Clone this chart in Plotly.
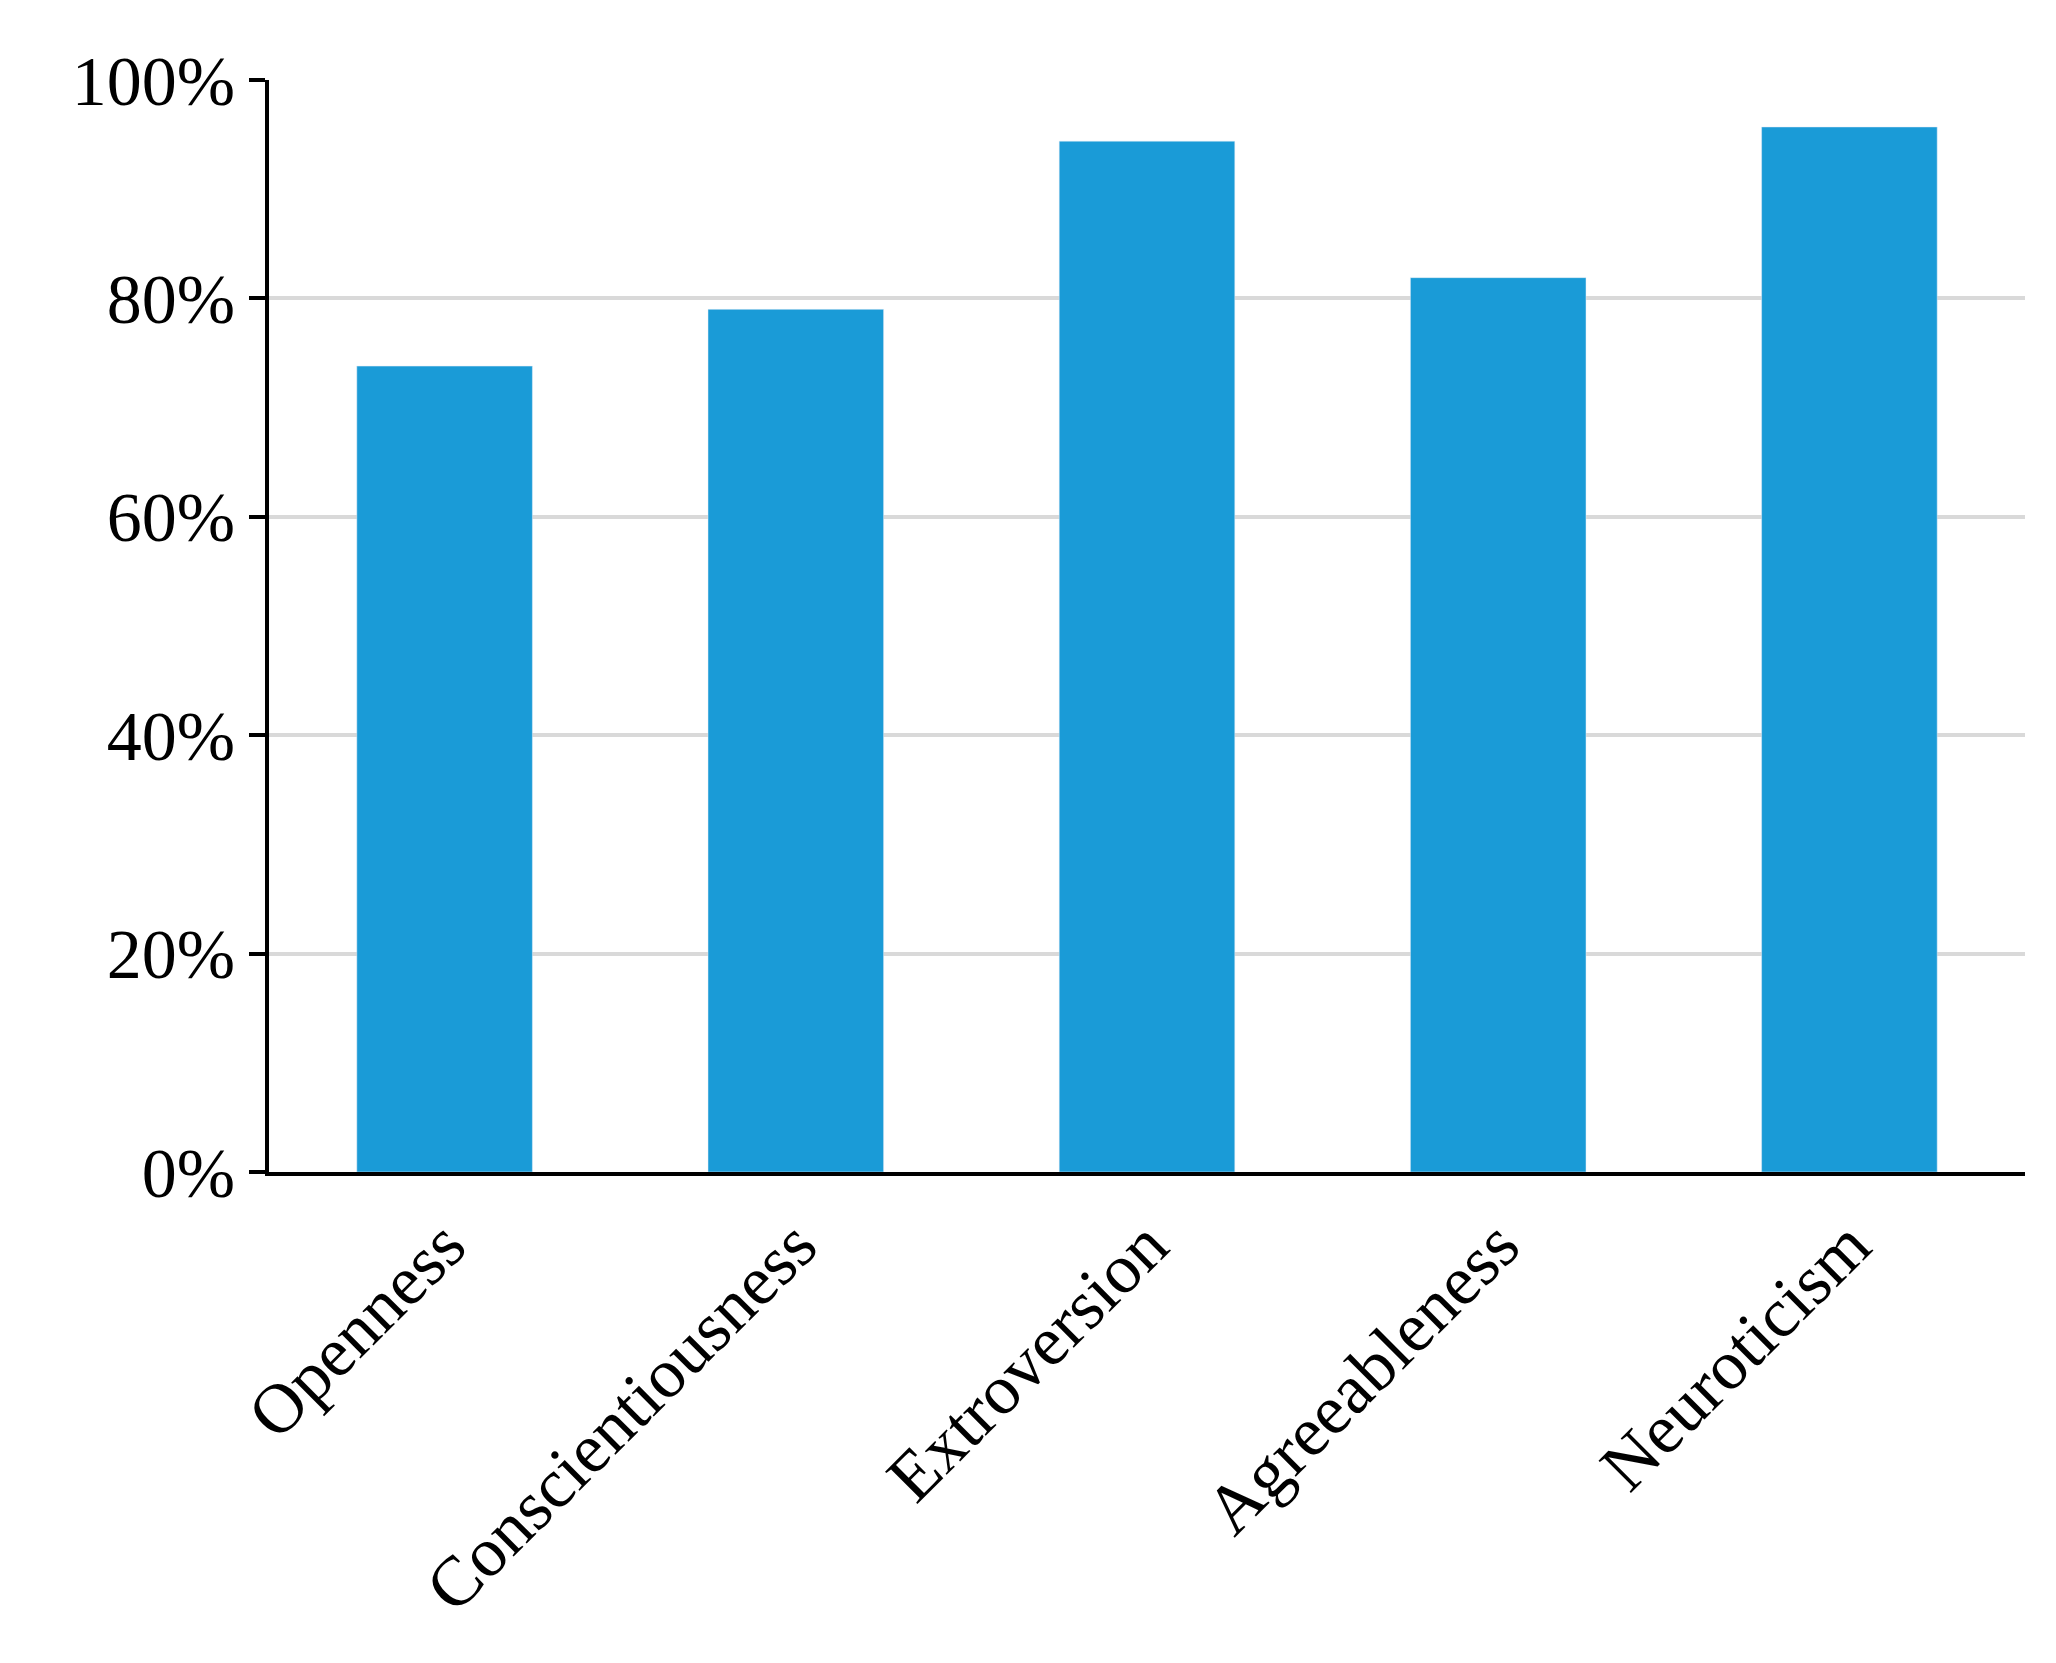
import plotly.graph_objects as go

categories = ["Openness", "Conscientiousness", "Extroversion", "Agreeableness", "Neuroticism"]
values = [0.738, 0.790, 0.944, 0.819, 0.957]
y_ticks = [0, 0.2, 0.4, 0.6, 0.8, 1.0]
y_tick_labels = ["0%", "20%", "40%", "60%", "80%", "100%"]

fig = go.Figure(go.Bar(x=categories, y=values, marker_color="#1a9bd7", width=0.5))
font = dict(family="Liberation Serif, Times New Roman, serif", size=70, color="black")
fig.update_layout(
    width=2056, height=1663, plot_bgcolor="white", paper_bgcolor="white",
    margin=dict(l=261, r=39, t=72, b=499), font=font, showlegend=False,
)
fig.update_xaxes(range=[-0.5, 4.5], tickangle=-45, showline=True, linecolor="black",
                 linewidth=4, ticks="", showgrid=False)
fig.update_yaxes(range=[0, 1.0], tickvals=y_ticks, ticktext=y_tick_labels, showline=True,
                 linecolor="black", linewidth=4, ticks="outside", ticklen=16, tickwidth=4,
                 tickcolor="black", gridcolor="#d9d9d9", gridwidth=4, zeroline=False)
fig.write_html("out.html")
